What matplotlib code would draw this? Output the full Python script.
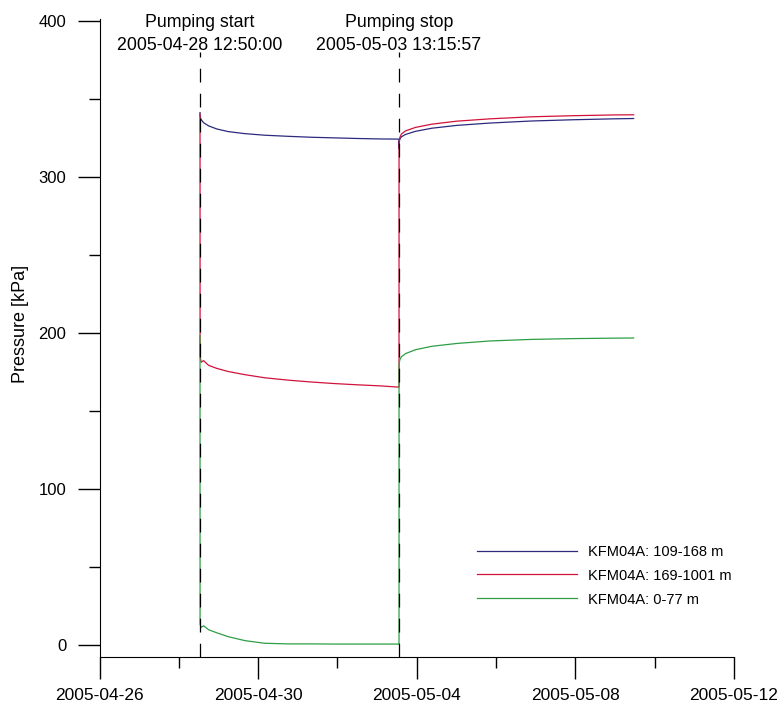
#!/usr/bin/env python3

import matplotlib
matplotlib.use("Agg")
import matplotlib.pyplot as plt
import pandas as pd

plt.rcParams["font.family"] = ["Liberation Sans", "DejaVu Sans"]

# Pumping phase
pump_times = [
    "2005-04-28 12:50", "2005-04-28 12:52", "2005-04-28 13:30", "2005-04-28 15:00",
    "2005-04-28 18:00", "2005-04-28 23:00", "2005-04-29 06:00", "2005-04-29 16:00",
    "2005-04-30 04:00", "2005-04-30 18:00", "2005-05-01 08:00", "2005-05-01 22:00",
    "2005-05-02 12:00", "2005-05-03 02:00", "2005-05-03 13:15",
]
pump_upper = [341, 338.5, 336.5, 334.5, 332.5, 330.5, 328.8, 327.5,
              326.5, 325.8, 325.2, 324.8, 324.4, 324.1, 324.0]
pump_lower = [340, 185, 181, 182, 179, 177, 175, 173,
              171, 169.5, 168.3, 167.3, 166.5, 165.8, 165.0]
pump_shallow = [198, 13, 11, 12, 9.5, 7.5, 5, 2.5,
                0.8, 0.4, 0.4, 0.3, 0.3, 0.3, 0.3]

# Recovery phase
rec_times = [
    "2005-05-03 13:16", "2005-05-03 13:17", "2005-05-03 13:22", "2005-05-03 13:45",
    "2005-05-03 14:45", "2005-05-03 17:15", "2005-05-03 23:15", "2005-05-04 09:15",
    "2005-05-05 00:15", "2005-05-05 20:15", "2005-05-06 21:15", "2005-05-07 22:15",
    "2005-05-08 23:15", "2005-05-09 11:15",
]
rec_upper = [318, 320, 322, 324, 325.5, 327, 329, 331,
             332.8, 334.3, 335.6, 336.4, 337.0, 337.2]
rec_lower = [165, 318, 322, 325, 327.3, 329.3, 331.5, 333.6,
             335.5, 337.0, 338.3, 339.0, 339.5, 339.6]
rec_shallow = [0.3, 176, 180, 182.5, 184.5, 186.5, 189, 191.2,
               193, 194.6, 195.6, 196.1, 196.4, 196.5]

series_names = ["KFM04A: 109-168 m", "KFM04A: 169-1001 m", "KFM04A: 0-77 m"]
series_colors = ["#2b2a7e", "#d1123b", "#2e9e45"]

events = ["2005-04-28 12:50:00", "2005-05-03 13:15:57"]
event_labels = ["Pumping start\n2005-04-28 12:50:00",
                "Pumping stop\n2005-05-03 13:15:57"]

major_dates = ["2005-04-26", "2005-04-30", "2005-05-04", "2005-05-08", "2005-05-12"]
minor_dates = ["2005-04-28", "2005-05-02", "2005-05-06", "2005-05-10"]
y_major = [0, 100, 200, 300, 400]
y_minor = [50, 150, 250, 350]


def main() -> None:
    fig = plt.figure(figsize=(7.79, 7.07), dpi=100)
    ax = fig.add_axes([99.5 / 779, 1 - 657 / 707, (734 - 99.5) / 779, (657 - 19) / 707])
    ymin, ymax = -8, 401

    times = pd.to_datetime(pump_times + rec_times)
    all_series = [pump_upper + rec_upper, pump_lower + rec_lower, pump_shallow + rec_shallow]
    for vals, name, color in zip(all_series, series_names, series_colors):
        ax.plot(times, vals, color=color, lw=0.9, label=name)

    # dashed markers for pump start / stop, annotated above the axes
    for ev, text in zip(events, event_labels):
        t = pd.Timestamp(ev)
        ax.axvline(t, ymin=0, ymax=(380 - ymin) / (ymax - ymin),
                   color="black", lw=0.9, ls=(0, (11, 9)), zorder=3)
        ax.text(t, 404.5, text, ha="center", va="top", fontsize=12.8,
                linespacing=1.5, clip_on=False)

    ax.set_xlim(pd.Timestamp("2005-04-26"), pd.Timestamp("2005-05-12"))
    ax.set_ylim(ymin, ymax)

    ax.set_xticks(pd.to_datetime(major_dates))
    ax.set_xticklabels(major_dates)
    ax.set_xticks(pd.to_datetime(minor_dates), minor=True)
    ax.set_yticks(y_major)
    ax.set_yticks(y_minor, minor=True)

    ax.tick_params(axis="both", which="major", length=16, width=1)
    ax.tick_params(axis="both", which="minor", length=8, width=1)
    ax.tick_params(axis="y", which="major", pad=8, labelsize=12)
    ax.tick_params(axis="x", which="major", pad=6, labelsize=12.5)

    for side in ["top", "right"]:
        ax.spines[side].set_visible(False)

    ax.set_ylabel("Pressure [kPa]", fontsize=13)
    ax.yaxis.set_label_coords(-71 / 634.5, (657 - 324) / 638)

    ax.legend(loc="lower left", bbox_to_anchor=(0.585, 0.07), frameon=False,
              fontsize=10.5, handlelength=6.9, handletextpad=0.75, labelspacing=0.68,
              borderaxespad=0)

    fig.savefig("out.png", dpi=100)


if __name__ == "__main__":
    main()
